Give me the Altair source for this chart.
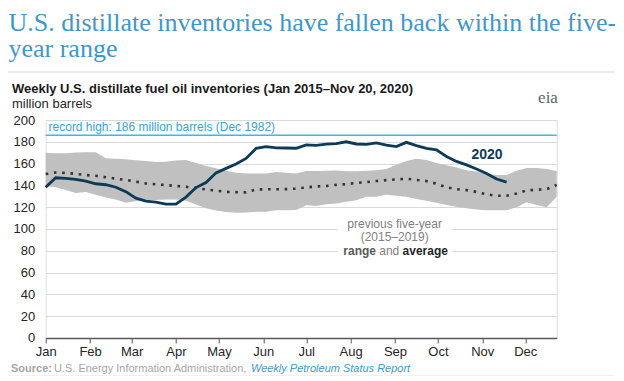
import altair as alt
import pandas as pd

# ---------------- text ----------------
TITLE_LINES = ["U.S. distillate inventories have fallen back within the five-", "year range"]
SUBTITLE = "Weekly U.S. distillate fuel oil inventories (Jan 2015\u2013Nov 20, 2020)"
UNITS = "million barrels"
RECORD_LABEL = "record high: 186 million barrels (Dec 1982)"
SERIES_LABEL = "2020"
RANGE_LINES = ["previous five-year", "(2015\u20132019)"]
SOURCE_BOLD = "Source:"
SOURCE_TEXT = "U.S. Energy Information Administration,"
SOURCE_LINK = "Weekly Petroleum Status Report"
LOGO = "eia"

# ---------------- axis ----------------
MONTHS = ["Jan", "Feb", "Mar", "Apr", "May", "Jun", "Jul", "Aug", "Sep", "Oct", "Nov", "Dec"]
MONTH_START_DOY = [1, 32, 61, 92, 122, 153, 183, 214, 245, 275, 306, 336]
Y_TICKS = [0, 20, 40, 60, 80, 100, 120, 140, 160, 180, 200]

# ---------------- data (million barrels, weekly) ----------------
v2020 = [138.2, 147.0, 146.5, 145.5, 144.0, 141.5, 140.6, 138.3, 134.3, 128.3,
         125.6, 124.7, 122.8, 122.8, 129.3, 138.0, 142.6, 151.5, 155.6, 159.6,
         164.7, 174.0, 175.5, 174.4, 174.3, 174.1, 177.2, 176.8, 177.8, 178.4,
         180.0, 178.0, 177.7, 179.0, 177.0, 175.6, 179.5, 176.5, 174.0, 172.6,
         166.5, 162.0, 158.8, 155.0, 151.0, 145.8, 143.0]

range_hi = [170.0, 169.5, 169.4, 170.2, 170.3, 170.3, 165.0, 164.5, 164.0, 163.0,
            162.3, 161.4, 161.6, 162.8, 163.3, 160.5, 157.8, 155.8, 153.5, 151.5,
            151.0, 151.0, 151.0, 152.4, 151.6, 151.0, 153.3, 153.2, 153.5, 153.6,
            152.9, 153.0, 153.5, 154.0, 155.0, 159.0, 162.5, 164.5, 163.3, 160.5,
            158.5, 156.5, 154.0, 152.8, 150.5, 149.5, 149.5, 153.5, 156.0, 156.0,
            155.0, 153.1]

range_lo = [139.4, 138.3, 135.7, 133.0, 134.0, 131.5, 129.0, 127.0, 124.0, 125.5,
            126.5, 126.5, 127.0, 127.0, 126.0, 122.5, 119.0, 117.0, 115.5, 114.9,
            115.2, 115.8, 115.8, 117.3, 117.3, 117.5, 121.8, 121.0, 122.8, 123.5,
            125.0, 126.3, 129.5, 129.5, 131.5, 130.5, 129.5, 127.5, 126.0, 124.0,
            122.0, 120.5, 119.0, 118.0, 117.3, 117.3, 117.3, 120.0, 124.5, 122.0,
            120.0, 129.5]

avg5 = [150.4, 151.8, 151.5, 150.5, 149.5, 148.8, 147.5, 146.2, 145.0, 143.5,
        141.8, 141.0, 140.3, 139.5, 138.7, 137.5, 136.3, 135.2, 134.1, 133.8,
        133.6, 136.3, 136.4, 136.5, 136.6, 137.0, 138.2, 139.0, 139.5, 140.5,
        141.2, 142.2, 143.0, 144.0, 144.8, 145.5, 146.1, 145.0, 144.0, 141.5,
        138.2, 136.5, 135.7, 134.0, 131.8, 130.5, 130.5, 132.5, 135.5, 136.0,
        136.5, 140.5]

RECORD_HIGH = 186

week_doy = [1 + 7 * i for i in range(len(range_hi))]

band_df = pd.DataFrame({"doy": week_doy, "lo": range_lo, "hi": range_hi, "avg": avg5})
cur_df = pd.DataFrame({"doy": week_doy[:len(v2020)], "v": v2020})

# ---------------- styling ----------------
SANS = "Liberation Sans"
SERIF = "Liberation Serif"
W, H = 511, 218

x_scale = alt.Scale(domain=[1, 358], nice=False, zero=False)
y_scale = alt.Scale(domain=[0, 200], nice=False)

x_axis = alt.Axis(values=MONTH_START_DOY,
                  labelExpr="timeFormat(datetime(2020, 0, datum.value), '%b')",
                  title=None, grid=False, tickSize=5, tickColor="#595959",
                  domainColor="#595959", domainWidth=1.5, tickWidth=1,
                  labelFont=SANS, labelFontSize=13, labelColor="#262626",
                  labelPadding=3, labelOverlap=False, labelFlush=False)
y_axis = alt.Axis(values=Y_TICKS, title=None, domain=False, ticks=False,
                  labelPadding=11, gridColor="#d9d9d9", gridWidth=1,
                  labelFont=SANS, labelFontSize=13, labelColor="#262626")

X = alt.X("doy:Q", scale=x_scale, axis=x_axis)

band = alt.Chart(band_df).mark_area(color="#c0c0c0", opacity=1).encode(
    x=X,
    y=alt.Y("lo:Q", scale=y_scale, axis=y_axis),
    y2="hi:Q",
)

bg_df = pd.DataFrame({"x1": [205], "x2": [285], "y1": [73], "y2": [113]})
label_bg = alt.Chart(bg_df).mark_rect(color="white").encode(
    x=alt.X("x1:Q", scale=x_scale, axis=x_axis), x2="x2:Q",
    y=alt.Y("y1:Q", scale=y_scale, axis=y_axis), y2="y2:Q",
)

rec_df = pd.DataFrame({"v": [RECORD_HIGH]})
record = alt.Chart(rec_df).mark_rule(color="#41b6e6", strokeWidth=1.5).encode(
    y=alt.Y("v:Q", scale=y_scale, axis=y_axis)
)

avg_line = alt.Chart(band_df).mark_line(color="#333333", strokeWidth=2.6,
                                         strokeDash=[2.6, 5.7]).encode(
    x=X, y=alt.Y("avg:Q", scale=y_scale, axis=y_axis)
)

cur_line = alt.Chart(cur_df).mark_line(color="#0d3a56", strokeWidth=2.8).encode(
    x=X, y=alt.Y("v:Q", scale=y_scale, axis=y_axis)
)


def data_text(doy, val, text, **kw):
    df = pd.DataFrame({"doy": [doy], "v": [val], "t": [text]})
    return alt.Chart(df).mark_text(**kw).encode(
        x=alt.X("doy:Q", scale=x_scale, axis=x_axis),
        y=alt.Y("v:Q", scale=y_scale, axis=y_axis),
        text="t:N",
    )


def px_text(x, y, text, **kw):
    df = pd.DataFrame({"t": [0]})
    return alt.Chart(df).mark_text(text=text, **kw).encode(
        x=alt.value(x), y=alt.value(y)
    )


def px_rule(x1, x2, y, color):
    df = pd.DataFrame({"a": [0]})
    return alt.Chart(df).mark_rule(color=color, strokeWidth=1).encode(
        x=alt.value(x1), x2=alt.value(x2), y=alt.value(y)
    )


labels = [
    data_text(3, RECORD_HIGH, RECORD_LABEL, align="left", baseline="middle", dy=-8.5,
              font=SANS, fontSize=12, color="#3aa3d6"),
    data_text(309.3, 167.8, SERIES_LABEL, align="center", baseline="middle",
              font=SANS, fontSize=14, fontWeight="bold", color="#0d3a56"),
    data_text(244.8, 104.5, RANGE_LINES[0], align="center", baseline="middle",
              font=SANS, fontSize=12, color="#7f7f7f"),
    data_text(244.8, 92.8, RANGE_LINES[1], align="center", baseline="middle",
              font=SANS, fontSize=12, color="#7f7f7f"),
    data_text(244.8, 79.9, "range", align="right", baseline="middle", dx=-18.7,
              font=SANS, fontSize=12, fontWeight="bold", color="#595959"),
    data_text(244.8, 79.9, "and", align="center", baseline="middle", dx=-5.4,
              font=SANS, fontSize=12, color="#7f7f7f"),
    data_text(244.8, 79.9, "average", align="left", baseline="middle", dx=7.9,
              font=SANS, fontSize=12, fontWeight="bold", color="#262626"),
]

OX, OY = 45.7, 120
header = [
    px_text(8.5 - OX, 31 - OY, TITLE_LINES, align="left", baseline="alphabetic",
            lineHeight=26.5, font=SERIF, fontSize=26, color="#3a98cf"),
    px_rule(8 - OX, 616 - OX, 72 - OY, "#d6d6d6"),
    px_text(12 - OX, 89 - OY, SUBTITLE, align="left", baseline="middle",
            font=SANS, fontSize=13, fontWeight="bold", color="#1a1a1a"),
    px_text(12 - OX, 104 - OY, UNITS, align="left", baseline="middle",
            font=SANS, fontSize=13, color="#262626"),
    px_text(548 - OX, 98 - OY, LOGO, align="center", baseline="middle",
            font=SERIF, fontSize=17, color="#666666"),
    px_text(11 - OX, 369 - OY, SOURCE_BOLD, align="left", baseline="middle",
            font=SANS, fontSize=11, fontWeight="bold", color="#a6a6a6"),
    px_text(54 - OX, 369 - OY, SOURCE_TEXT, align="left", baseline="middle",
            font=SANS, fontSize=11, color="#a6a6a6"),
    px_text(251 - OX, 369 - OY, SOURCE_LINK, align="left", baseline="middle",
            font=SANS, fontSize=11, fontStyle="italic", color="#3b9bd1"),
    px_rule(8 - OX, 616 - OX, 376 - OY, "#e3e3e3"),
]

chart = alt.layer(
    band, label_bg, record, avg_line, cur_line, *labels, *header
).properties(
    width=W, height=H,
    autosize=alt.AutoSizeParams(type="none"),
    padding={"left": OX - 8, "top": OY - 8, "right": 58, "bottom": 38},
).configure_view(stroke=None).configure(background="white")

chart.save("out.html", embed_options={"renderer": "svg", "actions": False})
